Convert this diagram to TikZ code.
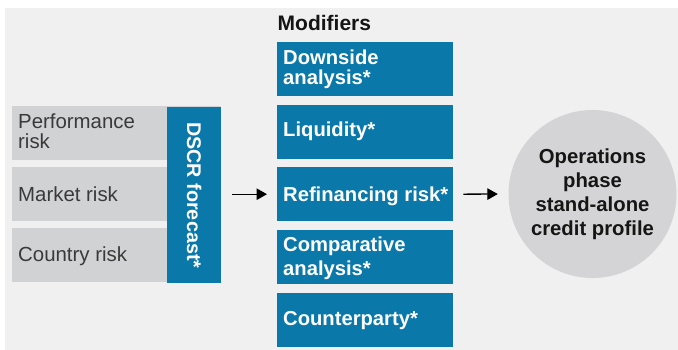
\documentclass[tikz,border=0pt]{standalone}
\usepackage{fontspec}
\setmainfont{Liberation Sans}
\usetikzlibrary{arrows.meta}
\definecolor{bg}{HTML}{F0F0F0}
\definecolor{blu}{HTML}{0A78A9}
\definecolor{gbox}{HTML}{D1D2D4}
\definecolor{circ}{HTML}{D4D4D6}
\definecolor{txtgrey}{HTML}{3A3A3A}
\definecolor{txtdark}{HTML}{151515}
\begin{document}
\begin{tikzpicture}[x=1pt,y=-1pt,
  greybox/.style={fill=gbox,anchor=north west,inner sep=0pt,minimum width=209pt,minimum height=54pt},
  modbox/.style={fill=blu,anchor=north west,inner sep=0pt,minimum width=176pt,minimum height=54pt},
  greytxt/.style={anchor=base west,inner sep=0pt,text=txtgrey,font=\fontsize{20.4}{20}\selectfont},
  modtxt/.style={anchor=base west,inner sep=0pt,text=white,font=\bfseries\fontsize{20.2}{20}\selectfont},
  arr/.style={line width=1.3pt,-{Triangle[length=10.5pt,width=11.5pt]}}
]
\useasboundingbox (0,0) rectangle (678,350);
\fill[bg] (5,8) rectangle (678,350);

% left inputs
\node[greybox] (perf) at (12,106) {};
\node[greybox] (mkt) at (12,167) {};
\node[greybox] (ctry) at (12,228) {};
\node[greytxt] (tperf1) at (18,129) {Performance};
\node[greytxt] (tperf2) at (18,149) {risk};
\node[greytxt] (tmkt) at (18,201.7) {Market risk};
\node[greytxt] (tctry) at (18,261.7) {Country risk};

\node[fill=blu,anchor=north west,inner sep=0pt,minimum width=54pt,minimum height=176pt] (dscr) at (167,107) {};
\node[rotate=-90,inner sep=0pt,text=white,font=\bfseries\fontsize{19.8}{20}\selectfont] (tdscr) at (dscr.center) {DSCR forecast*};

% modifiers
\node[anchor=base west,inner sep=0pt,text=txtdark,font=\bfseries\fontsize{21}{22}\selectfont] (title) at (277.5,31) {Modifiers};
\node[modbox] (down) at (277,42) {};
\node[modbox] (liq) at (277,105) {};
\node[modbox] (ref) at (277,167) {};
\node[modbox] (comp) at (277,230) {};
\node[modbox] (cpty) at (277,293) {};
\node[modtxt] (tdown1) at (283,65) {Downside};
\node[modtxt] (tdown2) at (283,85) {analysis*};
\node[modtxt] (tliq) at (283,137) {Liquidity*};
\node[modtxt] (tref) at (283,201) {Refinancing risk*};
\node[modtxt] (tcomp1) at (283,251.7) {Comparative};
\node[modtxt] (tcomp2) at (283,275) {analysis*};
\node[modtxt] (tcpty) at (283,325) {Counterparty*};

% outcome
\node[circle,fill=circ,minimum size=168pt,inner sep=0pt] (out) at (592.5,194) {};
\node[align=center,inner sep=0pt,text=txtdark,font=\bfseries\fontsize{20.3}{24.2}\selectfont] (tout) at (592.5,194.4) {Operations\\phase\\stand-alone\\credit profile};

% arrows
\draw[arr,shorten <=11pt,shorten >=10pt] (dscr.east |- ref.west) -- (ref.west);
\draw[arr,shorten <=10pt,shorten >=10.5pt] (ref.east) -- (out.west);
\end{tikzpicture}
\end{document}
